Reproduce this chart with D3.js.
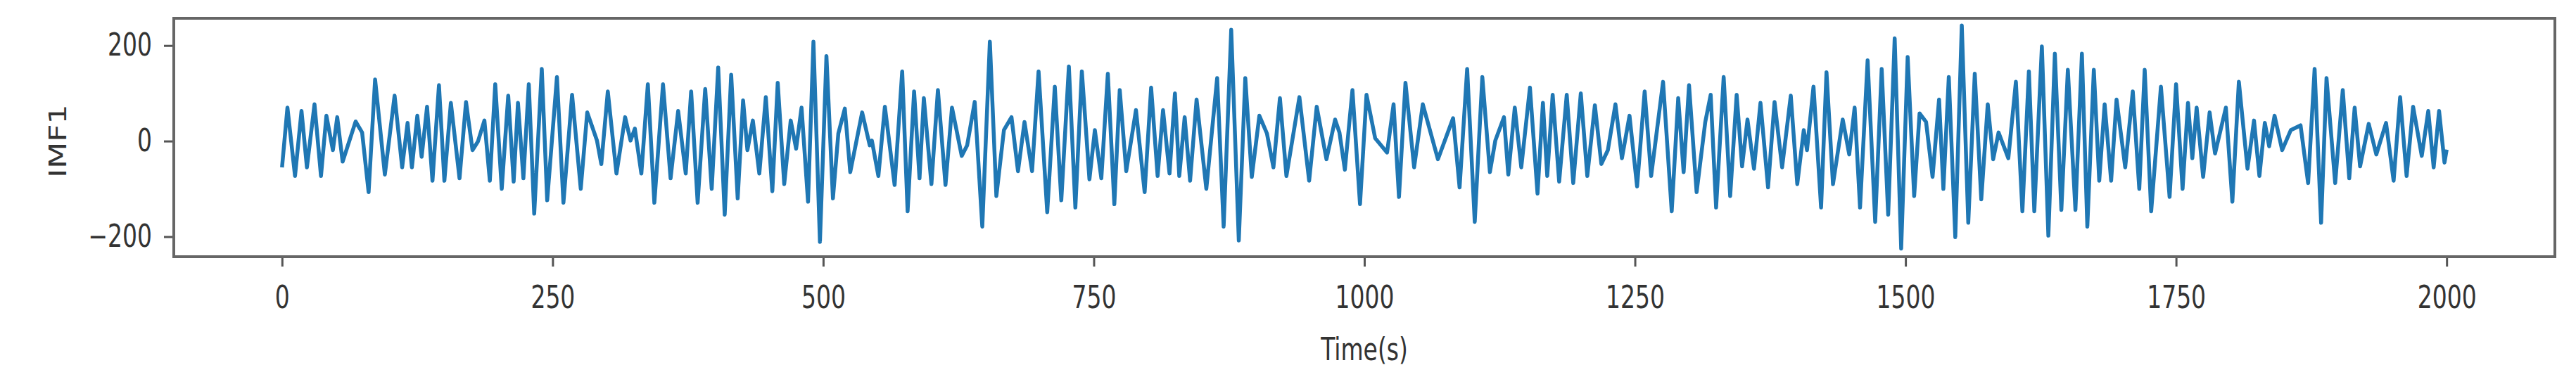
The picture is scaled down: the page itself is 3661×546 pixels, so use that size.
<!DOCTYPE html>
<html>
<head>
<meta charset="utf-8">
<script src="https://cdn.jsdelivr.net/npm/d3@7"></script>
<style>
  body { margin:0; background:#fff; }
  text { font-family:"DejaVu Sans", sans-serif; fill:#333; }
</style>
</head>
<body>
<svg id="imf" width="3661" height="546"></svg>
<script>
// turning points of the IMF1 trace (time in s, amplitude)
const times = [
  0,5,12,18,23,30,36,41,47,51,56,68,74,80,86,95,104,111,116,120,125,129,134,139,145,150,156,164,170,176,181,187,192,197,
  203,209,214,218,223,228,233,240,245,254,260,268,276,282,291,295,301,309,317,322,326,332,338,344,352,359,366,373,378,384,391,397,
  403,409,415,421,426,430,435,441,447,453,458,464,470,475,480,486,491,497,503,509,514,520,525,536,543,545,551,557,566,573,578,584,589,593,
  600,606,613,619,628,633,640,647,654,660,667,674,680,686,693,699,707,714,720,727,733,739,746,751,757,763,769,774,780,789,
  797,803,809,814,820,825,829,834,839,845,854,864,870,877,884,890,896,903,910,916,922,928,940,949,956,965,973,977,982,989,
  996,1002,1010,1021,1027,1032,1038,1046,1054,1068,1082,1088,1095,1102,1109,1116,1121,1129,1133,1139,1145,1153,1160,1165,1169,1174,1180,1187,
  1193,1200,1206,1213,1219,1225,1232,1238,1245,1252,1259,1265,1276,1284,1290,1295,1300,1307,1315,1320,1325,1332,1338,1344,1349,1354,1360,1366,1373,1379,1386,
  1394,1400,1406,1409,1415,1422,1427,1433,1442,1448,1453,1458,1465,1472,1478,1484,1490,1496,1502,1508,1513,1519,1525,1531,1535,1540,1546,1552,1558,1564,1570,1576,1581,1586,
  1595,1602,1608,1614,1619,1626,1632,1638,1644,1650,1657,1663,1668,1674,1679,1684,1690,1695,1703,1710,1716,1721,1727,1736,1744,1750,1756,1761,1765,1769,1775,1781,1786,
  1796,1802,1808,1816,1822,1827,1832,1836,1841,1848,1856,1865,1872,1878,1884,1889,1897,1904,1910,1915,1920,1928,1935,1944,1951,1957,1963,1969,1977,1983,1988,1993,1998,2000
];
const imf1 = [
  -55,70,-73,63,-55,77,-73,53,-19,50,-43,41,18,-107,129,-70,95,-55,38,-55,53,-33,72,-83,117,-83,80,-78,82,-19,-1,43,-83,119,
  -100,95,-85,80,-78,119,-152,151,-124,134,-129,97,-100,60,1,-48,104,-68,50,1,26,-68,119,-129,119,-78,63,-68,104,-129,109,-100,
  154,-154,139,-120,85,-19,43,-68,92,-105,122,-90,43,-16,70,-127,208,-211,178,-120,16,68,-65,60,-9,1,-73,72,-92,146,-147,104,-78,90,
  -90,107,-92,70,-31,-9,82,-179,208,-115,23,50,-63,40,-63,146,-149,114,-124,156,-139,146,-80,23,-78,141,-132,107,-63,65,
  -107,112,-73,65,-68,100,-73,50,-83,87,-100,132,-179,233,-208,132,-75,53,16,-55,90,-73,92,-83,72,-38,45,18,-60,107,
  -132,97,6,-24,77,-117,122,-55,77,-38,48,-97,151,-169,134,-65,1,50,-70,70,-55,112,-110,80,-73,97,-85,97,
  -88,100,-73,75,-48,-19,77,-36,53,-95,104,-73,124,-147,90,-65,117,-107,40,97,-139,134,-115,97,-53,45,-58,80,-97,82,-55,
  95,-90,23,-19,114,-139,144,-90,45,-28,70,-139,169,-169,151,-154,215,-225,176,-115,58,40,-75,87,-100,134,-201,242,-171,141,-122,77,-38,18,
  -36,124,-147,146,-147,198,-198,183,-144,149,-144,183,-179,149,-83,77,-83,87,-55,104,-100,149,-147,114,-117,119,-100,80,-36,70,-75,60,-26,
  70,-127,124,-58,43,-73,38,-11,53,-19,23,33,-88,151,-171,132,-88,107,-78,70,-53,36,-28,38,-83,92,-73,72,-31,63,-55,63,-45,-18
];
const xTicks = [0, 250, 500, 750, 1000, 1250, 1500, 1750, 2000];
const yTicks = [-200, 0, 200];

function imf(){
    const svg = d3.select('#imf');
    const width = +svg.attr('width');
    const height = +svg.attr('height');

    const margin = { top:26, right:30, bottom:181, left:247 };
    const innerWidth = width - margin.left - margin.right;
    const innerHeight = height - margin.top - margin.bottom;
    const squeeze = 0.75; // text in the picture is narrower than it is tall

    const data = times.map((t, i) => ({ t: t, v: imf1[i] }));

    const xscale = d3.scaleLinear()
        .domain([-100, 2100])
        .range([0, innerWidth]);

    const yscale = d3.scaleLinear()
        .domain([-242, 257])
        .range([innerHeight, 0]);

    const g = svg.append('g')
        .attr('transform', `translate(${margin.left},${margin.top})`);

    g.append('path')
        .datum(data)
        .attr('fill', 'none')
        .attr('stroke', '#1f77b4')
        .attr('stroke-width', 5.5)
        .attr('stroke-linejoin', 'round')
        .attr('d', d3.line().x(d => xscale(d.t)).y(d => yscale(d.v)));

    const xAxis = g.append('g')
        .attr('transform', `translate(0,${innerHeight})`)
        .call(d3.axisBottom(xscale).tickValues(xTicks).tickFormat(d3.format('d'))
            .tickSize(14).tickPadding(28));

    const yAxis = g.append('g')
        .call(d3.axisLeft(yscale).tickValues(yTicks).tickSize(14).tickPadding(17));

    [xAxis, yAxis].forEach(ax => {
        ax.select('.domain').remove();
        ax.selectAll('line').attr('stroke', '#555').attr('stroke-width', 3);
        ax.selectAll('text')
            .attr('font-size', 44)
            .attr('fill', '#333')
            .attr('transform', `scale(${squeeze},1)`);
    });
    yAxis.selectAll('text').attr('x', -31 / squeeze);

    // frame
    g.append('rect')
        .attr('width', innerWidth)
        .attr('height', innerHeight)
        .attr('fill', 'none')
        .attr('stroke', '#666')
        .attr('stroke-width', 4);

    svg.append('text')
        .attr('transform', `translate(${margin.left + innerWidth/2},512) scale(${squeeze},1)`)
        .attr('text-anchor', 'middle')
        .attr('font-size', 44)
        .text('Time(s)');

    svg.append('text')
        .attr('transform', `translate(82,${margin.top + yscale(0)}) scale(${squeeze},1) rotate(-90)`)
        .attr('text-anchor', 'middle')
        .attr('dy', '0.36em')
        .attr('font-size', 44)
        .text('IMF1');
}
imf();
</script>
</body>
</html>
